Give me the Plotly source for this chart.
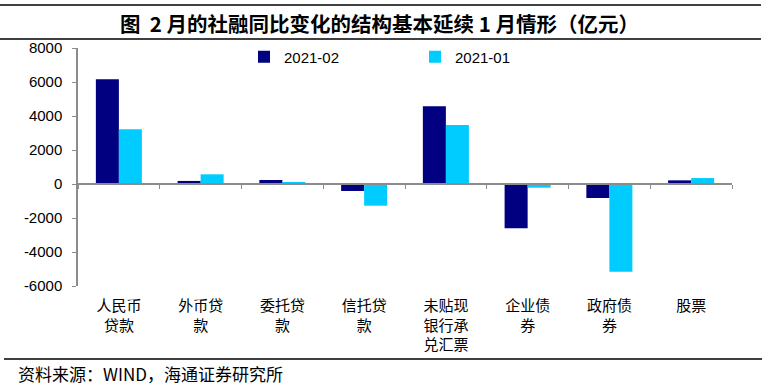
import plotly.graph_objects as go

categories = ["人民币<br>贷款", "外币贷<br>款", "委托贷<br>款", "信托贷<br>款",
              "未贴现<br>银行承<br>兑汇票", "企业债<br>券", "政府债<br>券", "股票"]
series_names = ["2021-02", "2021-01"]
values_feb = [6160, 180, 235, -410, 4570, -2610, -825, 215]
values_jan = [3220, 570, 100, -1275, 3470, -215, -5160, 350]
y_ticks = [-6000, -4000, -2000, 0, 2000, 4000, 6000, 8000]
y_tick_labels = ["-6000", "-4000", "-2000", "0", "2000", "4000", "6000", "8000"]
title_text = "图  2 月的社融同比变化的结构基本延续 1 月情形（亿元）"
source_text = "资料来源：WIND，海通证券研究所"

W, H = 776, 386
ml, mr, mt, mb = 78, 44, 48, 100
ph = H - mt - mb

cjk = "Noto Sans CJK SC"
latin = "Liberation Sans, Arial"
gray = "#8c8c8c"

fig = go.Figure()
fig.add_trace(go.Bar(x=categories, y=values_feb, name=series_names[0],
                     marker=dict(color="#000080", line=dict(width=0))))
fig.add_trace(go.Bar(x=categories, y=values_jan, name=series_names[1],
                     marker=dict(color="#00CCFF", line=dict(width=0))))

ymin, ymax = y_ticks[0], y_ticks[-1]
zero_pos = (0 - ymin) / (ymax - ymin)
n = len(categories)
pw = W - ml - mr

def px_x(x):
    return (x - ml) / pw

def px_y(y):
    return 1 - (y - mt) / ph

fig.update_layout(
    width=W, height=H,
    margin=dict(l=ml, r=mr, t=mt, b=mb),
    plot_bgcolor="white", paper_bgcolor="white",
    barmode="group", bargap=0.437, bargroupgap=0,
    showlegend=True,
    legend=dict(orientation="h", x=px_x(244), xanchor="left",
                y=px_y(57), yanchor="middle",
                font=dict(family=latin, size=15, color="black"),
                bgcolor="rgba(0,0,0,0)", entrywidth=126, itemwidth=30,
                traceorder="normal"),
    xaxis=dict(type="category", range=[-0.5, n - 0.5], showline=False, ticks="",
               showgrid=False, zeroline=False,
               tickfont=dict(family=cjk, size=15, color="black"),
               ticklabelstandoff=9),
    xaxis2=dict(overlaying="x", anchor="free", position=zero_pos, type="linear",
                range=[-0.5, n - 0.5], tickvals=[i - 0.5 for i in range(n + 1)],
                ticks="outside", ticklen=4, tickcolor=gray, tickwidth=1,
                showticklabels=False, showline=True, linecolor=gray, linewidth=1.5,
                showgrid=False, zeroline=False),
    yaxis=dict(range=[ymin, ymax], tickvals=y_ticks, ticktext=y_tick_labels,
               showline=True, linecolor=gray, linewidth=1.5, ticks="outside",
               ticklen=4, tickcolor=gray, showgrid=False, zeroline=False,
               ticklabelstandoff=7,
               tickfont=dict(family=latin, size=15, color="black")),
)

# invisible helper so the overlay axis at zero is drawn
fig.add_trace(go.Scatter(x=[-0.5, n - 0.5], y=[0, 0], xaxis="x2", mode="lines",
                         line=dict(width=0), showlegend=False, hoverinfo="skip"))

shapes = []
for y0, x0, x1 in [(5, 0, 761), (39, 0, 761), (359, 4, 762)]:
    shapes.append(dict(type="line", xref="paper", yref="paper",
                       x0=px_x(x0), x1=px_x(x1), y0=px_y(y0), y1=px_y(y0),
                       line=dict(color="black", width=1.5)))
fig.update_layout(shapes=shapes)

fig.add_annotation(text="<b>" + title_text + "</b>", xref="paper", yref="paper",
                   x=px_x(379), y=px_y(23), xanchor="center", yanchor="middle",
                   showarrow=False, font=dict(family=cjk, size=20.5, color="black"))
fig.add_annotation(text=source_text, xref="paper", yref="paper",
                   x=px_x(16), y=px_y(373), xanchor="left", yanchor="middle",
                   showarrow=False, font=dict(family=cjk, size=17, color="black"))

fig.write_html("out.html", config={"displayModeBar": False},
               post_script="document.body.style.margin='0';document.body.style.overflow='hidden';")
